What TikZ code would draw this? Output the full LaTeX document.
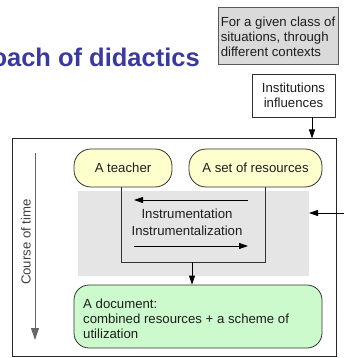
\documentclass[tikz,border=0pt]{standalone}
\usepackage{fontspec}
\setmainfont{Liberation Sans}
\usetikzlibrary{arrows.meta}
\definecolor{titleblue}{RGB}{58,58,158}
\definecolor{boxgray}{RGB}{218,218,218}
\definecolor{shadegray}{RGB}{229,229,229}
\definecolor{ylw}{RGB}{255,255,206}
\definecolor{grn}{RGB}{204,250,204}
\definecolor{edge}{RGB}{50,50,50}
\definecolor{txt}{RGB}{30,30,30}
\newcommand\fsz{\fontsize{13.2}{15}\selectfont}
\begin{document}
\begin{tikzpicture}[x=1pt,y=-1pt,
  every node/.style={font=\fsz, text=txt},
  rbox/.style={draw=edge, line width=0.8pt, inner sep=0pt, minimum height=38pt, rounded corners=17pt, fill=ylw},
  plainbox/.style={draw=edge, line width=0.8pt, inner sep=0pt, align=center},
  conn/.style={draw=edge, line width=0.8pt},
  arr/.style={draw=black, line width=0.8pt, -{Triangle[length=9pt,width=6pt]}},
]
\useasboundingbox (0,0) rectangle (344,358);
\begin{scope}
  \clip (0,0) rectangle (344,358);
  \node[anchor=base east, inner sep=0pt, font=\fontsize{25.5}{30}\selectfont\bfseries, text=titleblue] (title) at (200,67) {oach of didactics};
\end{scope}
% top right gray box
\node[draw=black!65, line width=1pt, fill=boxgray, minimum width=120pt, minimum height=57pt, inner sep=0pt, align=left] (context) at (278,36.5) {For a given class of\\situations, through\\different contexts};
% institutions
\node[plainbox, fill=white, minimum width=83pt, minimum height=43pt] (inst) at (293.5,95.5) {Institutions\\influences};
% main frame
\draw[draw=black!85, line width=0.9pt] (12.5,138.5) rectangle (336.5,356.5);
\coordinate (frametop) at (312,138.5);
\draw[arr] (inst.south -| frametop) -- (frametop);
% course of time
\coordinate (ct1) at (35,153);
\coordinate (ct2) at (35,340);
\draw[line width=1pt, -{Triangle[length=12pt,width=8pt]}, black!60] (ct1) -- (ct2);
\node[rotate=90, text=black!75] (cot) at (26,242) {Course of time};
% gray zone
\fill[shadegray] (78,191) rectangle (309,276);
\coordinate (shadeR) at (309,213);
\coordinate (rightin) at (344,213);
\draw[arr] (rightin) -- (shadeR);
% teacher & resources
\node[rbox, minimum width=98pt] (teacher) at (123,168) {A teacher};
\node[rbox, minimum width=133pt] (res) at (255.5,168) {A set of resources};
\coordinate (tl) at (121,262);
\coordinate (rl) at (265,262);
\draw[conn] (teacher.south -| tl) -- (tl) -- (rl) -- (res.south -| rl);
% instrumentation arrows
\coordinate (a1s) at (248,200);
\coordinate (a1e) at (134,200);
\draw[arr] (a1s) -- (a1e);
\node (instr) at (187,213.5) {Instrumentation};
\node (instz) at (187,231) {Instrumentalization};
\coordinate (a2s) at (134,246);
\coordinate (a2e) at (248,246);
\draw[arr] (a2s) -- (a2e);
% document
\node[draw=edge, line width=0.8pt, fill=grn, rounded corners=15pt, minimum width=248pt, minimum height=63pt, inner sep=0pt] (doc) at (198,316.5) {};
\node[anchor=west, align=left, inner sep=0pt] (doctxt) at (83,319) {A document:\\combined resources + a scheme of\\utilization};
\coordinate (mid) at (192,262);
\draw[arr] (mid) -- (doc.north -| mid);
\end{tikzpicture}
\end{document}
